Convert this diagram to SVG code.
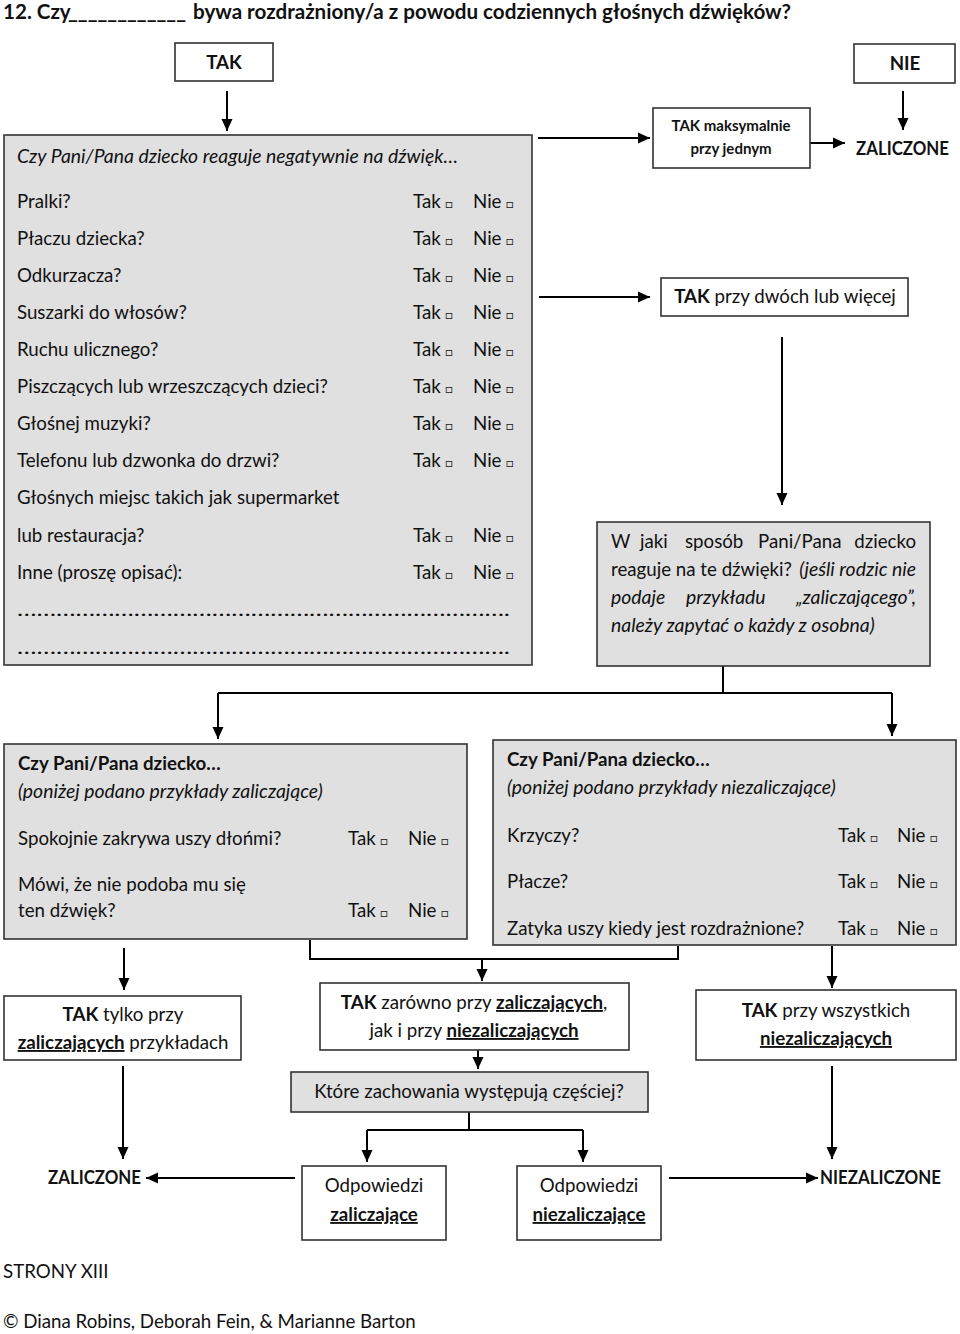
<svg xmlns="http://www.w3.org/2000/svg" width="960" height="1334" viewBox="0 0 960 1334">
<defs>
<marker id="ah" viewBox="0 0 12 12" refX="12" refY="6" markerWidth="12" markerHeight="12" markerUnits="userSpaceOnUse" orient="auto">
<path d="M0,0.5 L12,6 L0,11.5 z" fill="#000"/>
</marker>
<style>
text{font-family:Lato,"Liberation Sans",sans-serif;font-size:18.7px;fill:#111}
.b{font-weight:bold}
.i{font-style:italic;font-size:19.4px}
.u{text-decoration:underline}
.bx{font-size:12px}
.box{fill:#fff;stroke:#333;stroke-width:1.6}
.gbox{fill:#e0e0e0;stroke:#333;stroke-width:1.6}
.ln{fill:none;stroke:#000;stroke-width:2}
.ar{fill:none;stroke:#000;stroke-width:2;marker-end:url(#ah)}
.c{text-anchor:middle}
</style>
</defs>

<g id="title">
<text x="3" y="19" class="b" style="font-size:20.6px">12. Czy <tspan x="68" textLength="118" lengthAdjust="spacingAndGlyphs">____________</tspan><tspan x="193">bywa rozdrażniony/a z powodu codziennych głośnych dźwięków?</tspan></text>
</g>

<g id="connectors">
<path class="ar" d="M227,91 V131"/>
<path class="ar" d="M903,91 V130"/>
<path class="ar" d="M538,138 H650"/>
<path class="ar" d="M810,143 H845"/>
<path class="ar" d="M539,297 H650"/>
<path class="ar" d="M782,337 V505"/>
<path class="ln" d="M723,666 V693 M218,693 H892"/>
<path class="ar" d="M218,693 V739"/>
<path class="ar" d="M892,693 V736"/>
<path class="ar" d="M124,948 V990"/>
<path class="ln" d="M310,940 V959 H678 V946"/>
<path class="ar" d="M482,959 V981"/>
<path class="ar" d="M832,946 V988"/>
<path class="ar" d="M478,1050 V1069"/>
<path class="ln" d="M469,1112 V1130 M367,1130 H583"/>
<path class="ar" d="M367,1130 V1162"/>
<path class="ar" d="M583,1130 V1162"/>
<path class="ar" d="M123,1066 V1159"/>
<path class="ar" d="M832,1066 V1159"/>
<path class="ar" d="M295,1178 H146"/>
<path class="ar" d="M669,1178 H818"/>
</g>

<g id="tak-top">
<rect class="box" x="175" y="43" width="98" height="38"/>
<text x="224" y="69" class="b c">TAK</text>
</g>

<g id="nie-top">
<rect class="box" x="854" y="44" width="101" height="39"/>
<text x="905" y="70" class="b c">NIE</text>
</g>

<g id="sounds">
<rect class="gbox" x="4" y="135" width="528" height="530"/>
<text x="17" y="163" class="i">Czy Pani/Pana dziecko reaguje negatywnie na dźwięk…</text>
<text x="17" y="208">Pralki?</text>
<text x="17" y="245">Płaczu dziecka?</text>
<text x="17" y="282">Odkurzacza?</text>
<text x="17" y="319">Suszarki do włosów?</text>
<text x="17" y="356">Ruchu ulicznego?</text>
<text x="17" y="393">Piszczących lub wrzeszczących dzieci?</text>
<text x="17" y="430">Głośnej muzyki?</text>
<text x="17" y="467">Telefonu lub dzwonka do drzwi?</text>
<text x="17" y="504">Głośnych miejsc takich jak supermarket</text>
<text x="17" y="542">lub restauracja?</text>
<text x="17" y="579">Inne (proszę opisać):</text>
<text x="17" y="616" textLength="493" lengthAdjust="spacingAndGlyphs">………………………………………………………………….</text>
<text x="17" y="654" textLength="493" lengthAdjust="spacingAndGlyphs">………………………………………………………………….</text>
<g id="tn1">
<text x="413" y="208">Tak <tspan class="bx">□</tspan></text><text x="473" y="208">Nie <tspan class="bx">□</tspan></text>
<text x="413" y="245">Tak <tspan class="bx">□</tspan></text><text x="473" y="245">Nie <tspan class="bx">□</tspan></text>
<text x="413" y="282">Tak <tspan class="bx">□</tspan></text><text x="473" y="282">Nie <tspan class="bx">□</tspan></text>
<text x="413" y="319">Tak <tspan class="bx">□</tspan></text><text x="473" y="319">Nie <tspan class="bx">□</tspan></text>
<text x="413" y="356">Tak <tspan class="bx">□</tspan></text><text x="473" y="356">Nie <tspan class="bx">□</tspan></text>
<text x="413" y="393">Tak <tspan class="bx">□</tspan></text><text x="473" y="393">Nie <tspan class="bx">□</tspan></text>
<text x="413" y="430">Tak <tspan class="bx">□</tspan></text><text x="473" y="430">Nie <tspan class="bx">□</tspan></text>
<text x="413" y="467">Tak <tspan class="bx">□</tspan></text><text x="473" y="467">Nie <tspan class="bx">□</tspan></text>
<text x="413" y="542">Tak <tspan class="bx">□</tspan></text><text x="473" y="542">Nie <tspan class="bx">□</tspan></text>
<text x="413" y="579">Tak <tspan class="bx">□</tspan></text><text x="473" y="579">Nie <tspan class="bx">□</tspan></text>
</g>
</g>

<g id="tak-max">
<rect class="box" x="653" y="108" width="157" height="60"/>
<text x="731" y="131" class="b c" style="font-size:15px">TAK maksymalnie</text>
<text x="731" y="154" class="b c" style="font-size:15px">przy jednym</text>
</g>

<g id="zaliczone-top">
<text x="856" y="155" class="b" textLength="93" lengthAdjust="spacingAndGlyphs">ZALICZONE</text>
</g>

<g id="tak-dwa">
<rect class="box" x="661" y="278" width="247" height="38"/>
<text x="785" y="303" class="c"><tspan class="b">TAK</tspan> przy dwóch lub więcej</text>
</g>

<g id="w-jaki">
<rect class="gbox" x="597" y="522" width="333" height="144"/>
<text y="548"><tspan x="611">W</tspan><tspan x="640">jaki</tspan><tspan x="685">sposób</tspan><tspan x="758">Pani/Pana</tspan></text>
<text x="916" y="548" style="text-anchor:end">dziecko</text>
<text x="611" y="576">reaguje na te dźwięki?</text>
<text x="916" y="576" class="i" style="text-anchor:end">(jeśli rodzic nie</text>
<text y="604" class="i"><tspan x="611">podaje</tspan><tspan x="686">przykładu</tspan></text>
<text x="916" y="604" class="i" style="text-anchor:end">„zaliczającego”,</text>
<text x="611" y="632" class="i">należy zapytać o każdy z osobna)</text>
</g>

<g id="zaliczajace">
<rect class="gbox" x="4" y="744" width="463" height="195"/>
<text x="18" y="770" class="b">Czy Pani/Pana dziecko…</text>
<text x="18" y="798" class="i">(poniżej podano przykłady zaliczające)</text>
<text x="18" y="845">Spokojnie zakrywa uszy dłońmi?</text>
<text x="18" y="891">Mówi, że nie podoba mu się</text>
<text x="18" y="917">ten dźwięk?</text>
<text x="348" y="845">Tak <tspan class="bx">□</tspan></text><text x="408" y="845">Nie <tspan class="bx">□</tspan></text>
<text x="348" y="917">Tak <tspan class="bx">□</tspan></text><text x="408" y="917">Nie <tspan class="bx">□</tspan></text>
</g>

<g id="niezaliczajace">
<rect class="gbox" x="493" y="740" width="463" height="205"/>
<text x="507" y="766" class="b">Czy Pani/Pana dziecko…</text>
<text x="507" y="794" class="i">(poniżej podano przykłady niezaliczające)</text>
<text x="507" y="842">Krzyczy?</text>
<text x="507" y="888">Płacze?</text>
<text x="507" y="935">Zatyka uszy kiedy jest rozdrażnione?</text>
<text x="838" y="842">Tak <tspan class="bx">□</tspan></text><text x="897" y="842">Nie <tspan class="bx">□</tspan></text>
<text x="838" y="888">Tak <tspan class="bx">□</tspan></text><text x="897" y="888">Nie <tspan class="bx">□</tspan></text>
<text x="838" y="935">Tak <tspan class="bx">□</tspan></text><text x="897" y="935">Nie <tspan class="bx">□</tspan></text>
</g>

<g id="tak-tylko">
<rect class="box" x="4" y="996" width="237" height="64"/>
<text x="123" y="1021" class="c"><tspan class="b">TAK</tspan> tylko przy</text>
<text x="123" y="1049" class="c"><tspan class="b u">zaliczających</tspan> przykładach</text>
</g>

<g id="tak-zarowno">
<rect class="box" x="320" y="983" width="309" height="67"/>
<text x="474" y="1009" class="c"><tspan class="b">TAK</tspan> zarówno przy <tspan class="b u">zaliczających</tspan>,</text>
<text x="474" y="1037" class="c">jak i przy <tspan class="b u">niezaliczających</tspan></text>
</g>

<g id="tak-wszystkich">
<rect class="box" x="696" y="990" width="260" height="70"/>
<text x="826" y="1017" class="c"><tspan class="b">TAK</tspan> przy wszystkich</text>
<text x="826" y="1045" class="c b u">niezaliczających</text>
</g>

<g id="ktore">
<rect class="gbox" x="291" y="1072" width="357" height="40"/>
<text x="469" y="1098" class="c">Które zachowania występują częściej?</text>
</g>

<g id="odp-zal">
<rect class="box" x="302" y="1166" width="144" height="74"/>
<text x="374" y="1192" class="c">Odpowiedzi</text>
<text x="374" y="1221" class="c b u">zaliczające</text>
</g>

<g id="odp-niezal">
<rect class="box" x="517" y="1166" width="144" height="74"/>
<text x="589" y="1192" class="c">Odpowiedzi</text>
<text x="589" y="1221" class="c b u">niezaliczające</text>
</g>

<g id="zaliczone-bottom">
<text x="48" y="1184" class="b" textLength="93" lengthAdjust="spacingAndGlyphs">ZALICZONE</text>
</g>

<g id="niezaliczone-bottom">
<text x="820" y="1184" class="b" textLength="121" lengthAdjust="spacingAndGlyphs">NIEZALICZONE</text>
</g>

<g id="footer">
<text x="3" y="1278">STRONY XIII</text>
<text x="3" y="1328">© Diana Robins, Deborah Fein, &amp; Marianne Barton</text>
</g>
</svg>
